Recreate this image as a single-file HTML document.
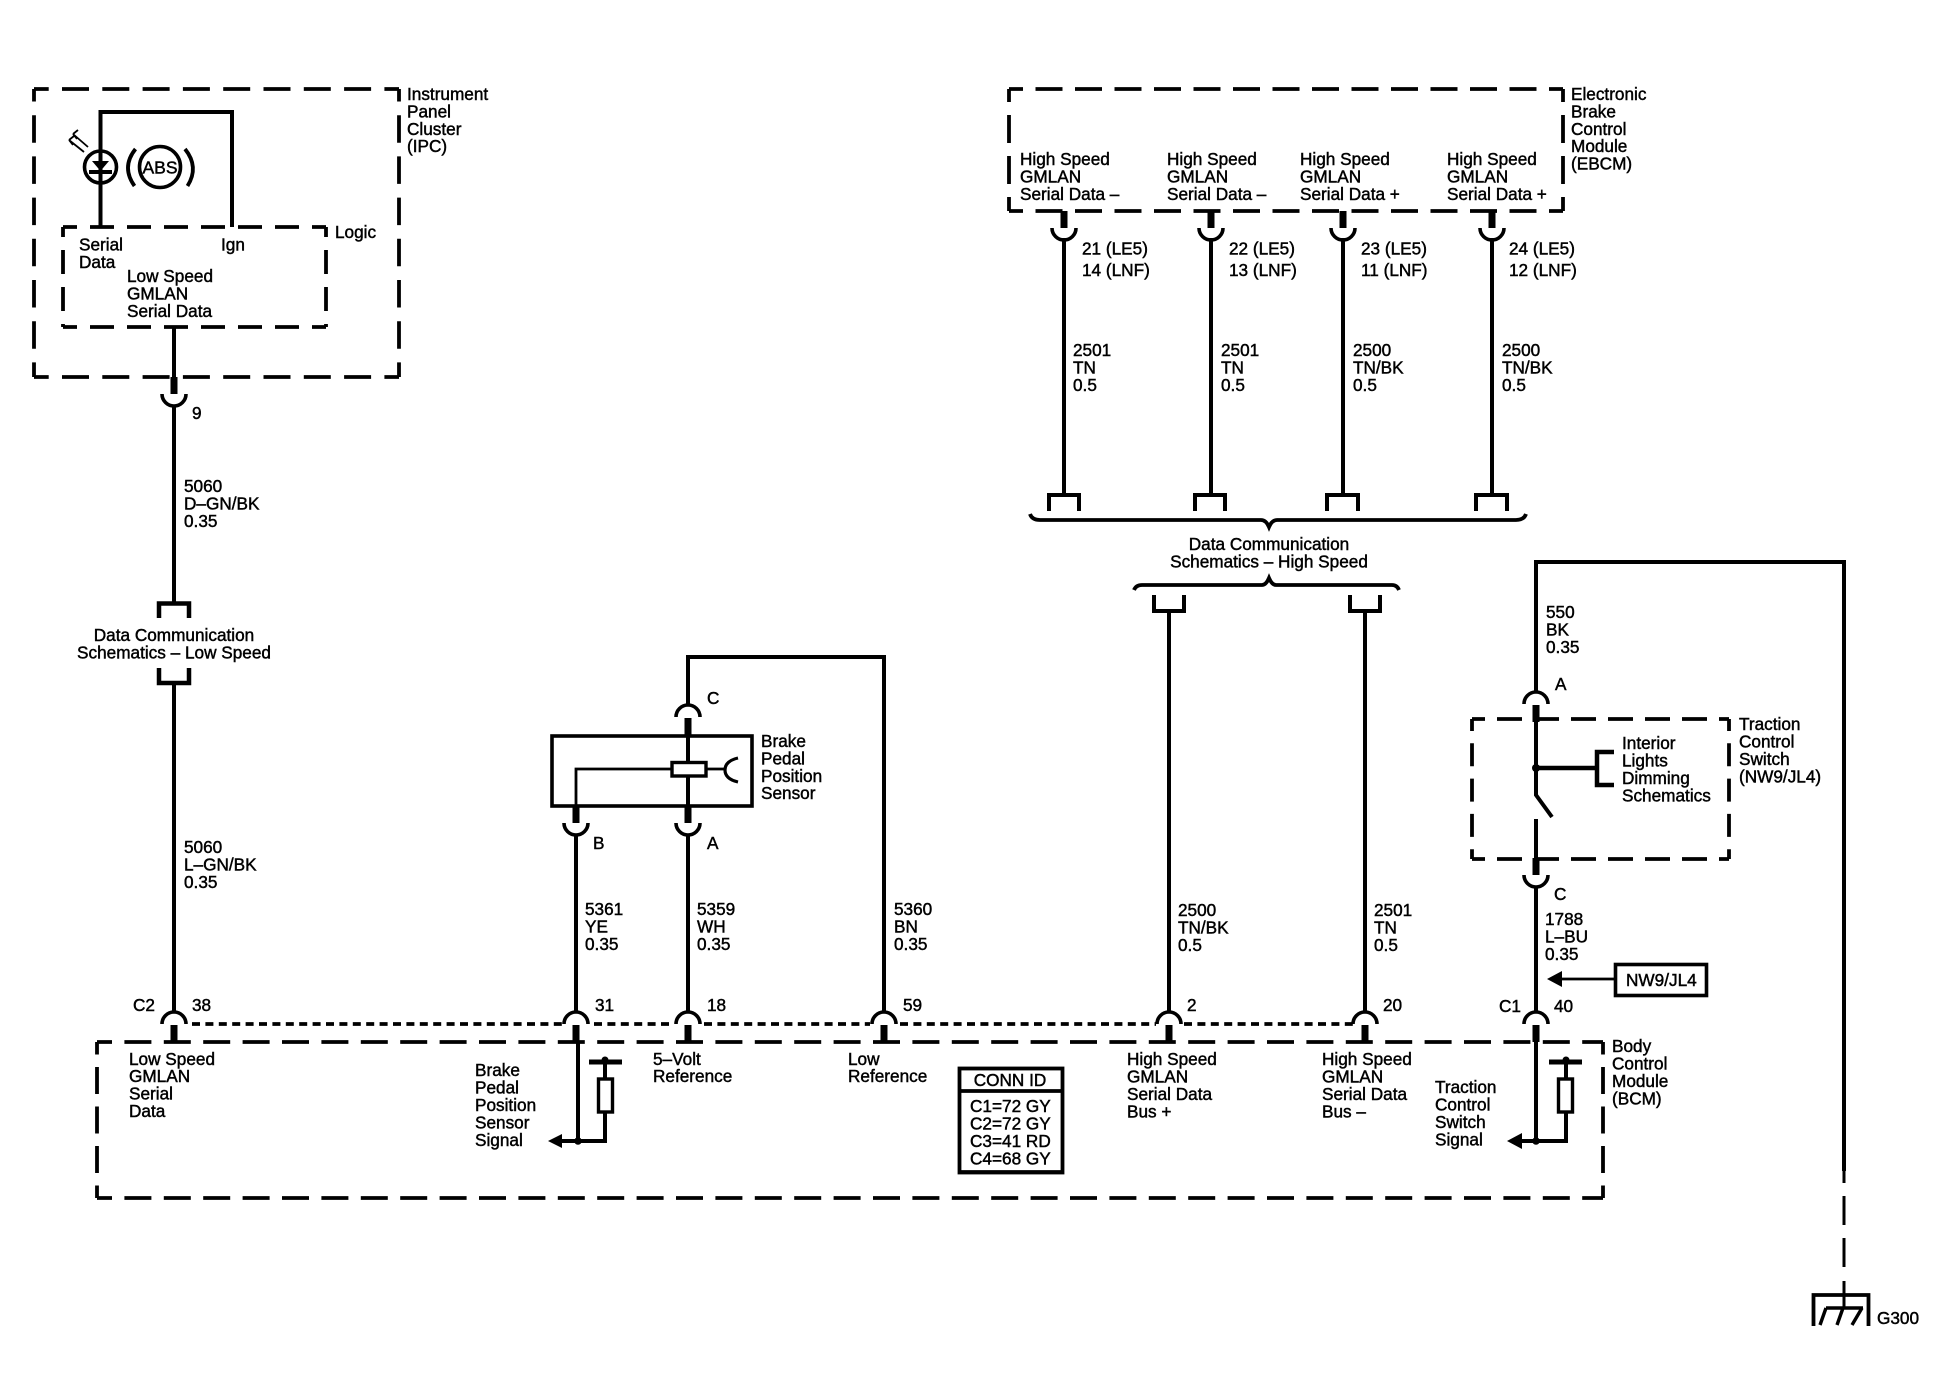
<!DOCTYPE html>
<html lang="en">
<head>
<meta charset="utf-8">
<title>Wiring Schematic</title>
<style>
html,body{margin:0;padding:0;background:#fff}
svg{display:block}
text{font-family:"Liberation Sans",sans-serif;font-size:17.2px;fill:#000;stroke:#000;stroke-width:.45px}
.m{text-anchor:middle}
.w{fill:none;stroke:#000;stroke-width:4}
.t{fill:none;stroke:#000;stroke-width:2.8}
.b{fill:none;stroke:#000;stroke-width:3.8}
</style>
</head>
<body>
<svg xmlns="http://www.w3.org/2000/svg" width="1942" height="1376" viewBox="0 0 1942 1376">
<defs>
<g id="d"><rect x="-3.5" y="0" width="7" height="17" fill="#000"/><path d="M-12,17A12,12 0 0 0 12,17" fill="none" stroke="#000" stroke-width="3.6"/></g>
<g id="u"><path d="M-12,12A12,12 0 0 1 12,12" fill="none" stroke="#000" stroke-width="3.6"/><rect x="-3.5" y="13" width="7" height="17" fill="#000"/></g>
</defs>
<rect width="1942" height="1376" fill="#fff"/>

<!-- IPC box -->
<g class="b" fill="none" stroke="#000" stroke-width="3.8">
<path d="M34,89H399" stroke-dasharray="27 13.3" stroke-dashoffset="12.3"/>
<path d="M34,377H399" stroke-dasharray="27 13.3" stroke-dashoffset="12.3"/>
<path d="M34,89V377" stroke-dasharray="27.5 13.7" stroke-dashoffset="15"/>
<path d="M399,89V377" stroke-dasharray="27.5 13.7" stroke-dashoffset="15"/>
<!-- Logic box -->
<path d="M63,227H326" stroke-dasharray="24 13" stroke-dashoffset="10"/>
<path d="M63,327H326" stroke-dasharray="24 13" stroke-dashoffset="10"/>
<path d="M63,227V327" stroke-dasharray="24 13" stroke-dashoffset="14"/>
<path d="M326,227V327" stroke-dasharray="24 13" stroke-dashoffset="14"/>
<!-- EBCM box -->
<path d="M1009,89H1563" stroke-dasharray="27 12.5" stroke-dashoffset="13"/>
<path d="M1009,211H1563" stroke-dasharray="27 12.5" stroke-dashoffset="13"/>
<path d="M1009,89V211" stroke-dasharray="28 13" stroke-dashoffset="15"/>
<path d="M1563,89V211" stroke-dasharray="28 13" stroke-dashoffset="15"/>
<!-- Switch box -->
<path d="M1472,719H1729" stroke-dasharray="25 12" stroke-dashoffset="12"/>
<path d="M1472,859H1729" stroke-dasharray="25 12" stroke-dashoffset="12"/>
<path d="M1472,719V859" stroke-dasharray="23 12.3" stroke-dashoffset="11"/>
<path d="M1729,719V859" stroke-dasharray="23 12.3" stroke-dashoffset="11"/>
<!-- BCM box -->
<path d="M97,1042H1603" stroke-dasharray="27 12.4" stroke-dashoffset="12"/>
<path d="M97,1198H1603" stroke-dasharray="27 12.4" stroke-dashoffset="12"/>
<path d="M97,1042V1198" stroke-dasharray="27 12.5" stroke-dashoffset="14.5"/>
<path d="M1603,1042V1198" stroke-dasharray="27 12.5" stroke-dashoffset="14.5"/>
<!-- dotted bus -->
<path d="M192,1024H562M594,1024H674M704,1024H870M900,1024H1156M1184,1024H1353" stroke-dasharray="8 5.4"/>
</g>

<!-- Lamp -->
<path class="w" d="M100.5,227V112H232V227"/>
<circle cx="100.5" cy="167" r="16" fill="#fff" stroke="#000" stroke-width="3.6"/>
<path class="w" d="M100.5,150V186"/>
<path d="M92,161H109L100.5,171Z" fill="#000"/>
<path d="M89,172H112" class="w"/>
<path fill="none" stroke="#000" stroke-width="1.8" d="M69,140L84,152M73,134L88,147M69,140l5,-4M69,140l4,5M73,134l5,-4M73,134l4,5"/>
<circle cx="160" cy="167" r="20.5" fill="none" stroke="#000" stroke-width="3.6"/>
<path d="M135.500,149Q121,167 134.500,186" fill="none" stroke="#000" stroke-width="3.8"/>
<path d="M185,149Q199.500,167 187.500,186" fill="none" stroke="#000" stroke-width="3.8"/>
<text class="m" x="160" y="173.500" style="font-size:17.500px">ABS</text>

<!-- IPC texts -->
<text x="407" y="100">Instrument</text><text x="407" y="117.400">Panel</text><text x="407" y="134.800">Cluster</text><text x="407" y="152.200">(IPC)</text>
<text x="335" y="238">Logic</text>
<text x="79" y="250.500">Serial</text><text x="79" y="268">Data</text><text x="221" y="250.500">Ign</text>
<text x="127" y="282">Low Speed</text><text x="127" y="299.500">GMLAN</text><text x="127" y="317">Serial Data</text>

<!-- Low speed wire -->
<path class="w" d="M174,327V378M174,405V603M174,684V1013"/>
<use href="#d" x="174" y="377"/>
<text x="192" y="419">9</text>
<text x="184" y="492">5060</text><text x="184" y="509.500">D–GN/BK</text><text x="184" y="527">0.35</text>
<path fill="none" stroke="#000" stroke-width="4.500" d="M159,618V603.500H189V618"/>
<text class="m" x="174" y="641">Data Communication</text>
<text class="m" x="174" y="658.500">Schematics – Low Speed</text>
<path fill="none" stroke="#000" stroke-width="4.500" d="M159,668V683H189V668"/>
<text x="184" y="853">5060</text><text x="184" y="870.500">L–GN/BK</text><text x="184" y="888">0.35</text>
<text x="133" y="1011">C2</text><text x="192" y="1011">38</text>
<use href="#u" x="174" y="1012"/>

<!-- EBCM -->
<text x="1571" y="100">Electronic</text><text x="1571" y="117.400">Brake</text><text x="1571" y="134.800">Control</text><text x="1571" y="152.200">Module</text><text x="1571" y="169.600">(EBCM)</text>
<text x="1020" y="165">High Speed</text><text x="1020" y="182.500">GMLAN</text><text x="1020" y="200">Serial Data –</text>
<text x="1167" y="165">High Speed</text><text x="1167" y="182.500">GMLAN</text><text x="1167" y="200">Serial Data –</text>
<text x="1300" y="165">High Speed</text><text x="1300" y="182.500">GMLAN</text><text x="1300" y="200">Serial Data +</text>
<text x="1447" y="165">High Speed</text><text x="1447" y="182.500">GMLAN</text><text x="1447" y="200">Serial Data +</text>
<use href="#d" x="1064" y="211"/><use href="#d" x="1211" y="211"/><use href="#d" x="1343" y="211"/><use href="#d" x="1492" y="211"/>
<path class="w" d="M1064,238V495M1211,238V495M1343,238V495M1492,238V495"/>
<path fill="none" stroke="#000" stroke-width="4" d="M1049,511V495H1079V511M1195,511V495H1225V511M1327,511V495H1358V511M1476,511V495H1507V511"/>
<text x="1082" y="254.500">21 (LE5)</text><text x="1082" y="276">14 (LNF)</text>
<text x="1229" y="254.500">22 (LE5)</text><text x="1229" y="276">13 (LNF)</text>
<text x="1361" y="254.500">23 (LE5)</text><text x="1361" y="276">11 (LNF)</text>
<text x="1509" y="254.500">24 (LE5)</text><text x="1509" y="276">12 (LNF)</text>
<text x="1073" y="356">2501</text><text x="1073" y="373.500">TN</text><text x="1073" y="391">0.5</text>
<text x="1221" y="356">2501</text><text x="1221" y="373.500">TN</text><text x="1221" y="391">0.5</text>
<text x="1353" y="356">2500</text><text x="1353" y="373.500">TN/BK</text><text x="1353" y="391">0.5</text>
<text x="1502" y="356">2500</text><text x="1502" y="373.500">TN/BK</text><text x="1502" y="391">0.5</text>
<path fill="none" stroke="#000" stroke-width="3.800" d="M1030,514Q1032,520 1040,520L1261,520Q1266,520 1269,527Q1272,520 1277,520L1516,520Q1524,520 1526,514"/>
<text class="m" x="1269" y="550">Data Communication</text>
<text class="m" x="1269" y="567.500">Schematics – High Speed</text>
<path fill="none" stroke="#000" stroke-width="3.800" d="M1134,590Q1136,585 1142,585L1262,585Q1266,585 1269,578Q1272,585 1276,585L1392,585Q1397,585 1399,590"/>
<path fill="none" stroke="#000" stroke-width="4" d="M1154,595V611H1184V595M1350,595V611H1380V595"/>
<path class="w" d="M1169,611V1013M1365,611V1013"/>
<text x="1178" y="916">2500</text><text x="1178" y="933.500">TN/BK</text><text x="1178" y="951">0.5</text>
<text x="1374" y="916">2501</text><text x="1374" y="933.500">TN</text><text x="1374" y="951">0.5</text>
<use href="#u" x="1169" y="1012"/><use href="#u" x="1365" y="1012"/>
<text x="1187" y="1011">2</text><text x="1383" y="1011">20</text>

<!-- Brake pedal sensor -->
<path class="w" d="M884,1013V657H688V706"/>
<use href="#u" x="688" y="705"/>
<text x="707" y="704">C</text>
<rect x="552" y="736" width="200" height="70" fill="none" stroke="#000" stroke-width="3.600"/>
<path class="w" d="M688,736V806"/>
<path fill="none" stroke="#000" stroke-width="2.800" d="M576,806V769H672M706,769H725"/>
<rect x="672" y="762.500" width="34" height="13.500" fill="#fff" stroke="#000" stroke-width="3.400"/>
<path fill="none" stroke="#000" stroke-width="3.200" d="M738,758Q725,761 725,770Q725,779 738,782"/>
<text x="761" y="747">Brake</text><text x="761" y="764.400">Pedal</text><text x="761" y="781.800">Position</text><text x="761" y="799.200">Sensor</text>
<use href="#d" x="576" y="806"/><use href="#d" x="688" y="806"/>
<text x="593" y="849">B</text><text x="707" y="849">A</text>
<path class="w" d="M576,835V1013M688,835V1013"/>
<text x="585" y="915">5361</text><text x="585" y="932.500">YE</text><text x="585" y="950">0.35</text>
<text x="697" y="915">5359</text><text x="697" y="932.500">WH</text><text x="697" y="950">0.35</text>
<text x="894" y="915">5360</text><text x="894" y="932.500">BN</text><text x="894" y="950">0.35</text>
<use href="#u" x="576" y="1012"/><use href="#u" x="688" y="1012"/><use href="#u" x="884" y="1012"/>
<text x="595" y="1011">31</text><text x="707" y="1011">18</text><text x="903" y="1011">59</text>

<!-- BCM contents -->
<text x="129" y="1065">Low Speed</text><text x="129" y="1082">GMLAN</text><text x="129" y="1099.500">Serial</text><text x="129" y="1117">Data</text>
<text x="475" y="1076">Brake</text><text x="475" y="1093.500">Pedal</text><text x="475" y="1111">Position</text><text x="475" y="1128.500">Sensor</text><text x="475" y="1146">Signal</text>
<path class="w" d="M578,1042V1141"/>
<path class="w" d="M560,1141H605V1112"/>
<path d="M548,1141L562,1134V1148Z" fill="#000"/>
<circle cx="578" cy="1141" r="3.800" fill="#000"/>
<rect x="598.500" y="1079" width="14" height="33" fill="#fff" stroke="#000" stroke-width="3.400"/>
<path class="w" d="M605,1079V1060"/>
<path fill="none" stroke="#000" stroke-width="5" d="M589,1062H622"/>
<circle cx="605" cy="1060" r="3.500" fill="#000"/>
<text x="653" y="1065">5–Volt</text><text x="653" y="1082">Reference</text>
<text x="848" y="1065">Low</text><text x="848" y="1082">Reference</text>
<rect x="959.500" y="1068.500" width="103" height="104" fill="#fff" stroke="#000" stroke-width="3.800"/>
<path d="M959,1091H1063" fill="none" stroke="#000" stroke-width="3.800"/>
<path d="M959,1172H1063" fill="none" stroke="#000" stroke-width="3.800"/>
<text class="m" x="1010" y="1086">CONN ID</text>
<text x="970" y="1112">C1=72 GY</text><text x="970" y="1129.500">C2=72 GY</text><text x="970" y="1147">C3=41 RD</text><text x="970" y="1164.500">C4=68 GY</text>
<text x="1127" y="1065">High Speed</text><text x="1127" y="1082.500">GMLAN</text><text x="1127" y="1100">Serial Data</text><text x="1127" y="1117.500">Bus +</text>
<text x="1322" y="1065">High Speed</text><text x="1322" y="1082.500">GMLAN</text><text x="1322" y="1100">Serial Data</text><text x="1322" y="1117.500">Bus –</text>
<text x="1435" y="1093">Traction</text><text x="1435" y="1110.500">Control</text><text x="1435" y="1128">Switch</text><text x="1435" y="1145.500">Signal</text>
<text x="1612" y="1052">Body</text><text x="1612" y="1069.500">Control</text><text x="1612" y="1087">Module</text><text x="1612" y="1104.500">(BCM)</text>

<!-- Traction switch -->
<path class="w" d="M1536,693V562H1844V1171"/>
<path fill="none" stroke="#000" stroke-width="3" d="M1844,1171V1183M1844,1196V1225M1844,1238V1267M1844,1281V1308"/>
<use href="#u" x="1536" y="692"/>
<text x="1555" y="690">A</text>
<text x="1546" y="618">550</text><text x="1546" y="635.500">BK</text><text x="1546" y="653">0.35</text>
<path class="w" d="M1536,721V795L1552,817M1536,819V859"/>
<circle cx="1536" cy="768" r="4" fill="#000"/>
<path fill="none" stroke="#000" stroke-width="4.500" d="M1536,768H1597M1614,752H1597V785H1614"/>
<text x="1622" y="749">Interior</text><text x="1622" y="766.500">Lights</text><text x="1622" y="784">Dimming</text><text x="1622" y="801.500">Schematics</text>
<text x="1739" y="730">Traction</text><text x="1739" y="747.500">Control</text><text x="1739" y="765">Switch</text><text x="1739" y="782.500">(NW9/JL4)</text>
<use href="#d" x="1536" y="858"/>
<text x="1554" y="900">C</text>
<path class="w" d="M1536,886V1013"/>
<text x="1545" y="925">1788</text><text x="1545" y="942.500">L–BU</text><text x="1545" y="960">0.35</text>
<path d="M1547,979L1562,971V987Z" fill="#000"/>
<path fill="none" stroke="#000" stroke-width="2.800" d="M1560,979H1614"/>
<rect x="1615.500" y="964.500" width="91" height="31" fill="#fff" stroke="#000" stroke-width="3.600"/>
<text x="1626" y="986">NW9/JL4</text>
<text x="1499" y="1012">C1</text><text x="1554" y="1012">40</text>
<use href="#u" x="1536" y="1012"/>
<path class="w" d="M1536,1042V1141"/>
<path class="w" d="M1520,1141H1566V1112"/>
<path d="M1507,1141L1522,1133V1149Z" fill="#000"/>
<circle cx="1536" cy="1141" r="3.800" fill="#000"/>
<rect x="1558.500" y="1079" width="14" height="33" fill="#fff" stroke="#000" stroke-width="3.400"/>
<path class="w" d="M1566,1079V1060"/>
<path fill="none" stroke="#000" stroke-width="5" d="M1549,1062H1582"/>
<circle cx="1566" cy="1060" r="3.500" fill="#000"/>

<!-- Ground -->
<path fill="none" stroke="#000" stroke-width="3.800" d="M1813.500,1326V1295H1868.500V1326"/>
<path fill="none" stroke="#000" stroke-width="3.400" d="M1826,1308H1863M1826,1308L1820,1325M1843,1308L1837,1325M1862,1308L1852,1325"/>
<text x="1877" y="1324">G300</text>
</svg>
</body>
</html>
